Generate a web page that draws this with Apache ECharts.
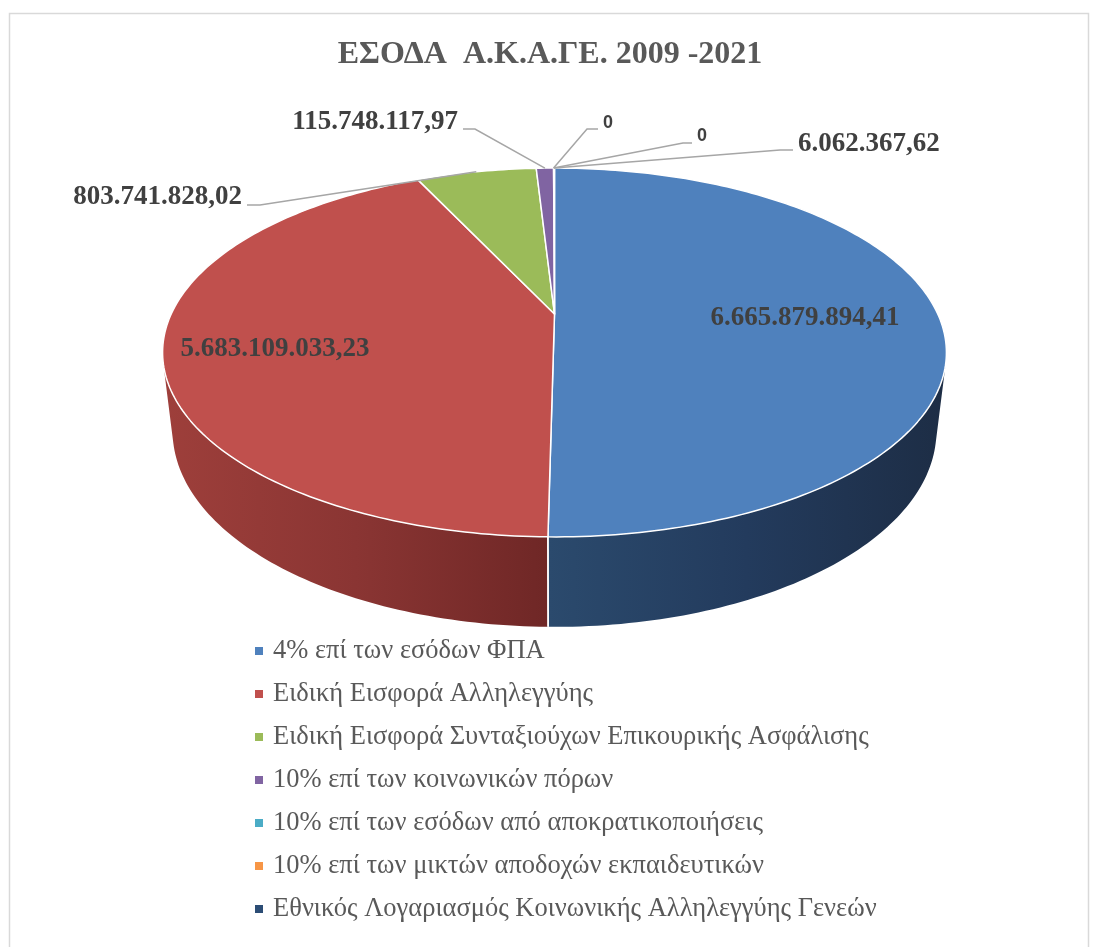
<!DOCTYPE html>
<html>
<head>
<meta charset="utf-8">
<title>ΕΣΟΔΑ Α.Κ.Α.ΓΕ. 2009 -2021</title>
<script src="https://cdn.jsdelivr.net/npm/echarts@6/dist/echarts.min.js"></script>
<style>
  html, body { margin: 0; padding: 0; background: #fff; }
  #chart { width: 1100px; height: 947px; }
</style>
</head>
<body>
<div id="chart"></div>
<script>
// Data
const categories = [
  '4% επί των εσόδων ΦΠΑ',
  'Ειδική Εισφορά Αλληλεγγύης',
  'Ειδική Εισφορά Συνταξιούχων Επικουρικής Ασφάλισης',
  '10% επί των κοινωνικών πόρων',
  '10% επί των εσόδων από αποκρατικοποιήσεις',
  '10% επί των μικτών αποδοχών εκπαιδευτικών',
  'Εθνικός Λογαριασμός Κοινωνικής Αλληλεγγύης Γενεών'
];
const values = [6665879894.41, 5683109033.23, 803741828.02, 115748117.97, 0, 0, 6062367.62];

// Colours
const topColors = ['#4f81bd', '#c0504d', '#9bbb59', '#8064a2', '#4bacc6', '#f79646', '#2c4d75'];
const wallStops = [
  ['#2b4a6d', '#233b5d', '#1d2d45'],
  ['#9e3f3b', '#8a3533', '#6f2726'],
  ['#6f8a3c', '#627a34', '#52672b'],
  ['#5c4877', '#4f3e67', '#423355'],
  ['#347d91', '#2d6d7f', '#255b6a'],
  ['#b86d31', '#a4602b', '#8c5225'],
  ['#1f3754', '#1a2f48', '#15263a']
];

// Where each data label sits (text anchor) and its leader line
const labelLayout = [
  { x: 805, y: 318, align: 'center' },
  { x: 275, y: 349, align: 'center' },
  { x: 242, y: 197, align: 'right', lineY: 205, start: 247, elbow: 260 },
  { x: 458, y: 122, align: 'right', lineY: 129, start: 463, elbow: 475 },
  { x: 603, y: 123, align: 'left', lineY: 129, start: 598, elbow: 587, sans: true },
  { x: 697, y: 136, align: 'left', lineY: 143, start: 692, elbow: 683, sans: true },
  { x: 798, y: 144, align: 'left', lineY: 150, start: 793, elbow: 780 }
];

// Perspective camera for the "3D" pie
const cam = { cx: 554.5, cy: 314, F: 1631, R: 0.235, alpha: 27.4 * Math.PI / 180, h: 0.0546 };
const sinA = Math.sin(cam.alpha), cosA = Math.cos(cam.alpha);

function project(theta, Y, r) {
  const rr = r === undefined ? cam.R : r;
  const X = rr * Math.sin(theta);
  const Z = rr * Math.cos(theta);
  const depth = 1 - Y * sinA + Z * cosA;
  const up = Y * cosA + Z * sinA;
  return [cam.cx + cam.F * X / depth, cam.cy - cam.F * up / depth];
}

// visible part of the side wall (silhouette tangents)
const tangent = Math.acos(-cam.R / cosA);
const wallFrom = tangent, wallTo = 2 * Math.PI - tangent;

const total = values.reduce((s, v) => s + v, 0);
const startAngles = [], endAngles = [];
let acc = 0;
values.forEach(v => {
  startAngles.push(acc / total * 2 * Math.PI);
  acc += v;
  endAngles.push(acc / total * 2 * Math.PI);
});

function fmt(v) {
  if (v === 0) return '0';
  const parts = v.toFixed(2).split('.');
  return parts[0].replace(/\B(?=(\d{3})+(?!\d))/g, '.') + ',' + parts[1];
}

function arc(a0, a1, Y) {
  const n = Math.max(2, Math.ceil((a1 - a0) / (Math.PI / 180)) + 1);
  const pts = [];
  for (let k = 0; k < n; k++) {
    pts.push(project(a0 + (a1 - a0) * k / (n - 1), Y));
  }
  return pts;
}

function renderItem(params, api) {
  const i = params.dataIndex;
  const a0 = startAngles[i], a1 = endAngles[i];
  const children = [];

  if (a1 - a0 > 1e-6) {
    // top face
    const topPts = [project(0, 0, 0)].concat(arc(a0, a1, 0));
    children.push({
      type: 'polygon',
      z2: 10,
      shape: { points: topPts },
      style: { fill: topColors[i], stroke: '#ffffff', lineWidth: 1.5, lineJoin: 'round' }
    });

    // side wall
    const w0 = Math.max(a0, wallFrom), w1 = Math.min(a1, wallTo);
    if (w1 > w0) {
      const upper = arc(w0, w1, 0);
      const lower = arc(w0, w1, -cam.h).reverse();
      const pts = upper.concat(lower);
      const xs = pts.map(p => p[0]);
      const xMin = Math.min.apply(null, xs), xMax = Math.max.apply(null, xs);
      const st = wallStops[i];
      children.push({
        type: 'polygon',
        z2: 1,
        shape: { points: pts },
        style: {
          fill: new echarts.graphic.LinearGradient(xMin, 0, xMax, 0, [
            { offset: 0, color: st[0] },
            { offset: 0.5, color: st[1] },
            { offset: 1, color: st[2] }
          ], true)
        }
      });
      [a0, a1].forEach(a => {
        if (a > wallFrom && a < wallTo) {
          const p = project(a, 0), q = project(a, -cam.h);
          children.push({
            type: 'line',
            z2: 2,
            shape: { x1: p[0], y1: p[1], x2: q[0], y2: q[1] },
            style: { stroke: '#ffffff', lineWidth: 1.5 }
          });
        }
      });
    }
  }

  // data label + leader line
  const lay = labelLayout[i];
  children.push({
    type: 'text',
    z2: 30,
    style: {
      text: fmt(api.value(0)),
      x: lay.x,
      y: lay.y,
      align: lay.align,
      verticalAlign: 'middle',
      font: lay.sans ? 'bold 18px "Liberation Sans", Arial, sans-serif'
                     : 'bold 27px "Liberation Serif", "Times New Roman", serif',
      fill: '#404040'
    }
  });
  if (lay.elbow !== undefined) {
    const anchor = project((a0 + a1) / 2, 0);
    children.push({
      type: 'polyline',
      z2: 20,
      shape: { points: [[lay.start, lay.lineY], [lay.elbow, lay.lineY], anchor] },
      style: { stroke: '#a6a6a6', lineWidth: 1.5, fill: null }
    });
  }

  return { type: 'group', children: children };
}

const chart = echarts.init(document.getElementById('chart'));

const option = {
  animation: false,
  backgroundColor: '#ffffff',
  title: {
    text: 'ΕΣΟΔΑ  Α.Κ.Α.ΓΕ. 2009 -2021',
    left: 'center',
    top: 39,
    padding: 0,
    textStyle: {
      fontFamily: 'Liberation Serif',
      fontWeight: 'bold',
      fontSize: 32,
      color: '#595959'
    }
  },
  legend: {
    orient: 'vertical',
    left: 255,
    top: 637,
    padding: 0,
    itemWidth: 8,
    itemHeight: 8,
    itemGap: 15,
    icon: 'rect',
    selectedMode: false,
    data: categories,
    textStyle: {
      fontFamily: 'Liberation Serif',
      fontSize: 26.5,
      lineHeight: 28,
      color: '#595959',
      padding: [0, 0, 0, 5]
    }
  },
  graphic: [{
    type: 'rect',
    shape: { x: 9.5, y: 13.5, width: 1079, height: 980 },
    style: { fill: null, stroke: '#d9d9d9', lineWidth: 1.5 },
    silent: true
  }],
  series: [
    {
      // invisible pie, only feeds the legend
      type: 'pie',
      silent: true,
      center: [-200, -200],
      radius: 1,
      label: { show: false },
      labelLine: { show: false },
      data: categories.map((name, i) => ({
        name: name,
        value: values[i],
        itemStyle: { color: topColors[i] }
      }))
    },
    {
      type: 'custom',
      coordinateSystem: 'none',
      silent: true,
      renderItem: renderItem,
      data: values.map((v, i) => ({ name: categories[i], value: v }))
    }
  ]
};

chart.setOption(option);
</script>
</body>
</html>
